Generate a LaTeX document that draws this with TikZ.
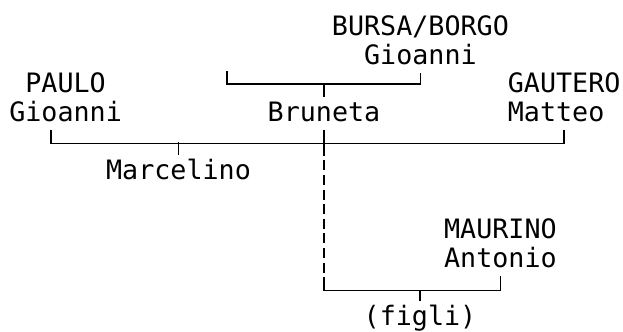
\documentclass[tikz,border=0pt]{standalone}
\usepackage{fontspec}
\setmonofont{DejaVu Sans Mono}

\begin{document}
\begin{tikzpicture}[font=\ttfamily\fontsize{19}{20.6}\selectfont,
  person/.style={inner sep=0pt, text height=0.6cm, text depth=0.225cm, align=center, anchor=base},
  kin/.style={line width=1.1pt}]

\useasboundingbox (0,0) rectangle (15.575,-8.275);

% Names, placed on the baseline of their last line
\node[person] (bursa) at (10.51,-1.6) {BURSA/BORGO\\Gioanni};
\node[person] (paulo) at (1.64,-3.025) {PAULO\\Gioanni};
\node[person] (bruneta) at (8.1,-3.025) {Bruneta};
\node[person, align=left, anchor=base west] (gautero) at (12.69,-3.025) {GAUTERO\\Matteo};
\node[person] (marcelino) at (4.4625,-4.475) {Marcelino};
\node[person] (maurino) at (12.51,-6.675) {MAURINO\\Antonio};
\node[person] (figli) at (10.5,-8.125) {(figli)};

% Parents of Bruneta, one of them unnamed
\coordinate (nn) at (5.675,-1.775);
\draw[kin] (nn) -- ++(0,-0.325) -| (bursa.south);
\draw[kin] (bruneta.north) -- ++(0,0.325);

% Marriages of Bruneta
\draw[kin] ([xshift=-0.3625cm]paulo.south) -- ++(0,-0.325) -| (gautero.south);
\draw[kin] (marcelino.north) -- ++(0,0.325);

% Bruneta and Maurino, children
\draw[kin, dash pattern=on 18.5pt off 2.9pt on 7.1pt off 3.3pt on 7.1pt off 3.3pt
  on 7.1pt off 3.3pt on 7.1pt off 3.3pt on 7.1pt off 3.3pt on 7.1pt off 3.3pt
  on 7.1pt off 3.3pt on 7.1pt off 3.3pt on 200pt]
  (bruneta.south) -- ++(0,-4.0) -| (maurino.south);
\draw[kin] (figli.north) -- ++(0,0.275);

\end{tikzpicture}
\end{document}
